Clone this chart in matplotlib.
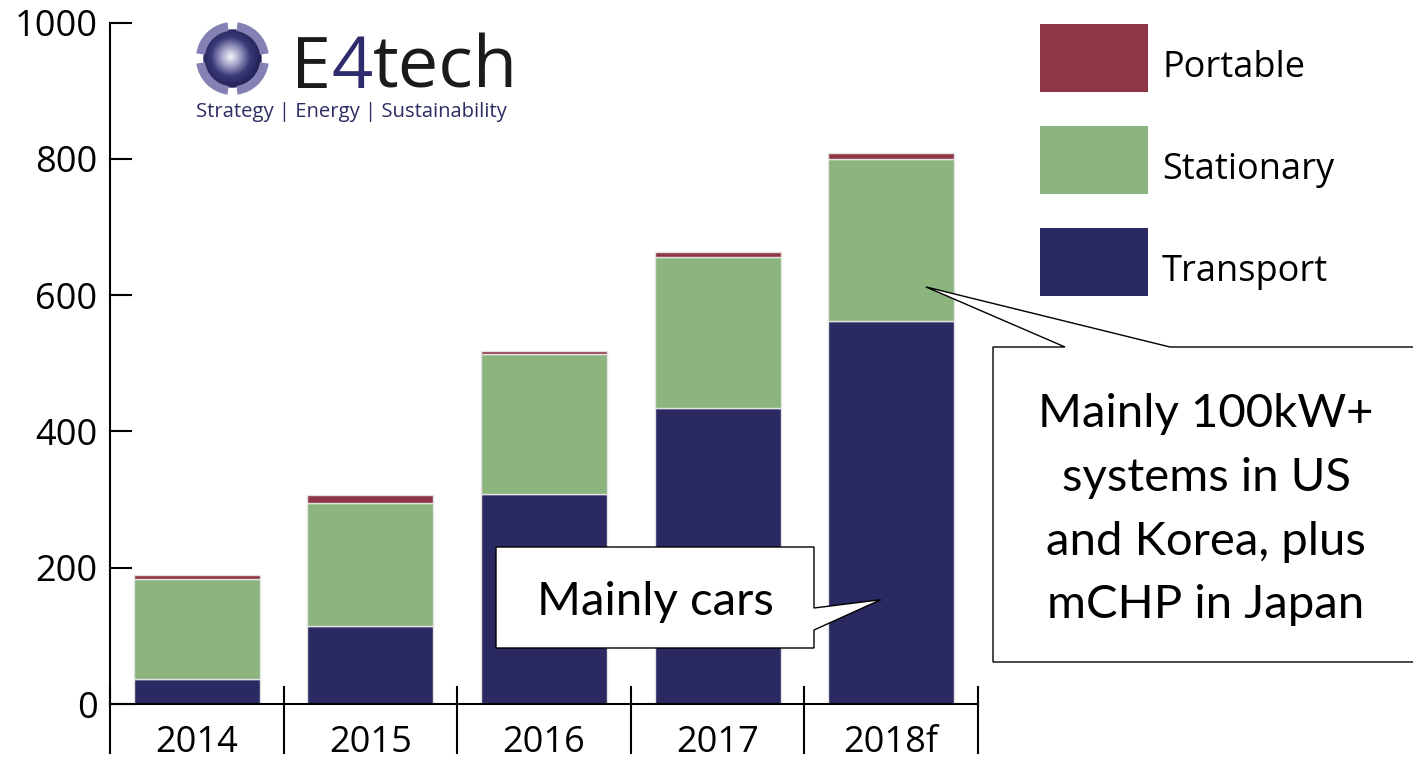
import matplotlib
matplotlib.use("Agg")
import matplotlib.pyplot as plt
import matplotlib.patches as patches
import numpy as np

# values (MW shipped)
years = ["2014", "2015", "2016", "2017", "2018f"]
transport = [37, 114, 308, 435, 562]
stationary = [147, 181, 205, 221, 238]
portable = [5, 11, 5, 7, 9]
legend_names = ["Portable", "Stationary", "Transport"]
y_ticks = [0, 200, 400, 600, 800, 1000]

COLORS = {
    "Transport": "#2a2961",
    "Stationary": "#8cb47f",
    "Portable": "#8f3646",
}
SEG_EDGE = "#e2e2e2"

W, H = 1413, 758
MYRIAD = "Open Sans"
CALIBRI = "Lato"


def px(x, y):
    # pixel position (top-left origin) -> figure fraction
    return (x / W, 1 - y / H)


fig = plt.figure(figsize=(W / 100, H / 100), dpi=100)
ax = fig.add_axes([110 / W, 1 - 704 / H, (978 - 110) / W, (704 - 22.5) / H])

x = np.arange(len(years))
bw = 0.726
t = np.array(transport)
s = np.array(stationary)
p = np.array(portable)
ax.bar(x, t, width=bw, color=COLORS["Transport"], edgecolor=SEG_EDGE, linewidth=1)
ax.bar(x, s, width=bw, bottom=t, color=COLORS["Stationary"], edgecolor=SEG_EDGE, linewidth=1)
ax.bar(x, p, width=bw, bottom=t + s, color=COLORS["Portable"], edgecolor=SEG_EDGE, linewidth=1)

ax.set_xlim(-0.5, len(years) - 0.5)
ax.set_ylim(0, 1000)
for side in ["top", "right"]:
    ax.spines[side].set_visible(False)
for side in ["left", "bottom"]:
    ax.spines[side].set_linewidth(1.5)
    ax.spines[side].set_color("black")

ax.set_yticks(y_ticks)
ax.tick_params(axis="y", direction="in", length=16, width=1.5, pad=9, labelsize=26)
ax.set_xticks(x, years)
ax.tick_params(axis="x", length=0, pad=15, labelsize=26)
for lbl in ax.get_xticklabels() + ax.get_yticklabels():
    lbl.set_fontfamily(MYRIAD)

# category separators below the axis
for xs in np.arange(-0.5, len(years), 1.0):
    ax.plot([xs, xs], [25, -72], color="black", lw=1.5, clip_on=False, zorder=3)

# legend, drawn by hand
for i, name in enumerate(legend_names):
    top = 24 + i * 102
    fig.add_artist(patches.Rectangle(px(1040, top + 68), 108 / W, 68 / H,
                                     transform=fig.transFigure,
                                     facecolor=COLORS[name], edgecolor="none"))
    fig.text(*px(1162, top + 53), name, fontsize=26, family=MYRIAD,
             va="baseline", ha="left", color="black")

# logo
lax = fig.add_axes([196 / W, 1 - 95 / H, 73 / W, 73 / H])
lax.set_xlim(-1, 1)
lax.set_ylim(-1, 1)
lax.axis("off")
gx, gy = np.meshgrid(np.linspace(-1, 1, 200), np.linspace(-1, 1, 200))
r = np.sqrt((gx + 0.05) ** 2 + (gy - 0.05) ** 2)
cmap = matplotlib.colors.LinearSegmentedColormap.from_list(
    "sphere", ["#f4f4fa", "#9c9cc4", "#3b3a78", "#24235a"])
img = lax.imshow(np.clip(r / 0.8, 0, 1), cmap=cmap, extent=(-1, 1, -1, 1), origin="lower")
img.set_clip_path(patches.Circle((0, 0), 0.8, transform=lax.transData))
for a0 in [8, 98, 188, 278]:
    lax.add_patch(patches.Wedge((0, 0), 1.0, a0, a0 + 74, width=0.24,
                                facecolor="#8482b4", edgecolor="none"))

t1 = fig.text(*px(291, 88), "E", fontsize=52, family=MYRIAD, color="#1b1b1b", va="baseline")
t2 = ax.annotate("4", xy=(1, 0), xycoords=t1, fontsize=52, family=MYRIAD,
                 color="#2e2c6c", va="bottom", ha="left", annotation_clip=False)
ax.annotate("tech", xy=(1, 0), xycoords=t2, fontsize=52, family=MYRIAD,
            color="#1b1b1b", va="bottom", ha="left", annotation_clip=False)
fig.text(*px(196, 112), "Strategy | Energy | Sustainability", fontsize=14.6,
         family=MYRIAD, color="#2c2d62", va="center", ha="left")


def callout(points, tip_data, tip_index):
    disp = ax.transData.transform(tip_data)
    tip = fig.transFigure.inverted().transform(disp)
    verts = [px(*pt) for pt in points]
    verts.insert(tip_index, tuple(tip))
    fig.add_artist(patches.Polygon(verts, closed=True, transform=fig.transFigure,
                                   facecolor="white", edgecolor="black",
                                   linewidth=1.0, zorder=5))


callout([(496, 547), (814, 547), (814, 608), (814, 630), (814, 648), (496, 648)],
        (3.94, 153), 3)
fig.text(*px(655, 615), "Mainly cars", fontsize=34, family=CALIBRI,
         ha="center", va="baseline", zorder=6)

callout([(993, 347), (1065, 347), (1170, 347), (1425, 347), (1425, 662), (993, 662)],
        (4.2, 612), 2)
big_lines = ["Mainly 100kW+", "systems in US", "and Korea, plus", "mCHP in Japan"]
for i, line in enumerate(big_lines):
    fig.text(*px(1206, 427 + i * 63.8), line, fontsize=34, family=CALIBRI,
             ha="center", va="baseline", zorder=6)

fig.savefig("out.png", dpi=100)
